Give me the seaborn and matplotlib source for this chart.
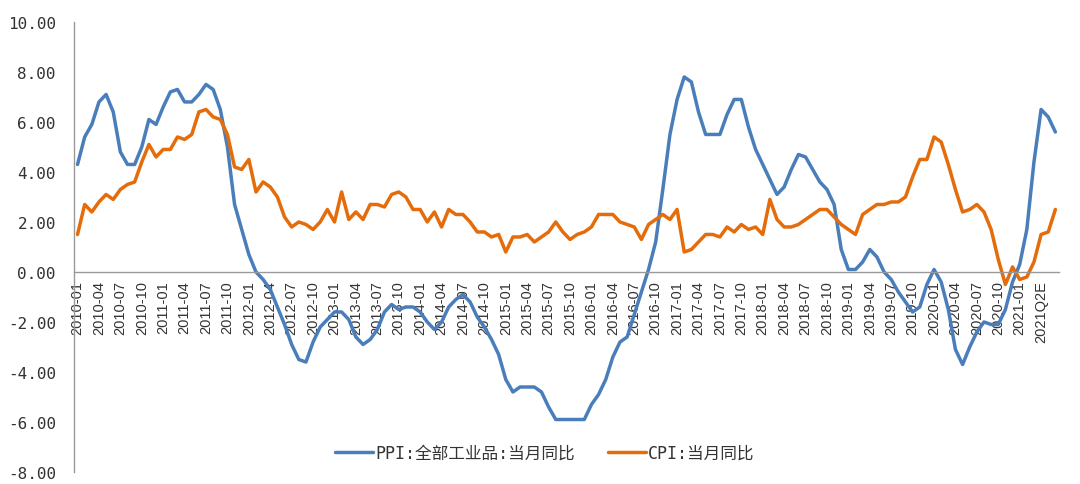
import numpy as np
import pandas as pd
import matplotlib
matplotlib.use("Agg")
import matplotlib.pyplot as plt
import seaborn as sns

months = [f"{y}-{m:02d}" for y in range(2010, 2022) for m in range(1, 13)][:138]

ppi = [4.3, 5.4, 5.9, 6.8, 7.1, 6.4, 4.8, 4.3, 4.3, 5.0, 6.1, 5.9,
       6.6, 7.2, 7.3, 6.8, 6.8, 7.1, 7.5, 7.3, 6.5, 5.0, 2.7, 1.7,
       0.7, 0.0, -0.3, -0.7, -1.4, -2.1, -2.9, -3.5, -3.6, -2.8, -2.2, -1.9,
       -1.6, -1.6, -1.9, -2.6, -2.9, -2.7, -2.3, -1.6, -1.3, -1.5, -1.4, -1.4,
       -1.6, -2.0, -2.3, -2.0, -1.4, -1.1, -0.9, -1.2, -1.8, -2.2, -2.7, -3.3,
       -4.3, -4.8, -4.6, -4.6, -4.6, -4.8, -5.4, -5.9, -5.9, -5.9, -5.9, -5.9,
       -5.3, -4.9, -4.3, -3.4, -2.8, -2.6, -1.7, -0.8, 0.1, 1.2, 3.3, 5.5,
       6.9, 7.8, 7.6, 6.4, 5.5, 5.5, 5.5, 6.3, 6.9, 6.9, 5.8, 4.9,
       4.3, 3.7, 3.1, 3.4, 4.1, 4.7, 4.6, 4.1, 3.6, 3.3, 2.7, 0.9,
       0.1, 0.1, 0.4, 0.9, 0.6, 0.0, -0.3, -0.8, -1.2, -1.6, -1.4, -0.5,
       0.1, -0.4, -1.5, -3.1, -3.7, -3.0, -2.4, -2.0, -2.1, -2.1, -1.5, -0.4,
       0.3, 1.7, 4.4, 6.5, 6.2, 5.6]

cpi = [1.5, 2.7, 2.4, 2.8, 3.1, 2.9, 3.3, 3.5, 3.6, 4.4, 5.1, 4.6,
       4.9, 4.9, 5.4, 5.3, 5.5, 6.4, 6.5, 6.2, 6.1, 5.5, 4.2, 4.1,
       4.5, 3.2, 3.6, 3.4, 3.0, 2.2, 1.8, 2.0, 1.9, 1.7, 2.0, 2.5,
       2.0, 3.2, 2.1, 2.4, 2.1, 2.7, 2.7, 2.6, 3.1, 3.2, 3.0, 2.5,
       2.5, 2.0, 2.4, 1.8, 2.5, 2.3, 2.3, 2.0, 1.6, 1.6, 1.4, 1.5,
       0.8, 1.4, 1.4, 1.5, 1.2, 1.4, 1.6, 2.0, 1.6, 1.3, 1.5, 1.6,
       1.8, 2.3, 2.3, 2.3, 2.0, 1.9, 1.8, 1.3, 1.9, 2.1, 2.3, 2.1,
       2.5, 0.8, 0.9, 1.2, 1.5, 1.5, 1.4, 1.8, 1.6, 1.9, 1.7, 1.8,
       1.5, 2.9, 2.1, 1.8, 1.8, 1.9, 2.1, 2.3, 2.5, 2.5, 2.2, 1.9,
       1.7, 1.5, 2.3, 2.5, 2.7, 2.7, 2.8, 2.8, 3.0, 3.8, 4.5, 4.5,
       5.4, 5.2, 4.3, 3.3, 2.4, 2.5, 2.7, 2.4, 1.7, 0.5, -0.5, 0.2,
       -0.3, -0.2, 0.4, 1.5, 1.6, 2.5]

tick_labels = [m if i % 3 == 0 else "" for i, m in enumerate(months)]
tick_labels[135] = "2021Q2E"

series_names = ["PPI:全部工业品:当月同比", "CPI:当月同比"]
colors = ["#4A7EBB", "#E46C0A"]

df = pd.DataFrame({
    "idx": list(range(len(months))) * 2,
    "value": ppi + cpi,
    "series": [series_names[0]] * len(ppi) + [series_names[1]] * len(cpi),
})

sns.set_style("white")
plt.rcParams["font.family"] = ["DejaVu Sans Mono", "Noto Sans CJK SC"]
plt.rcParams["axes.unicode_minus"] = False

fig = plt.figure(figsize=(10.8, 4.85), dpi=100)
ax = fig.add_axes([0.0685, 0.0247, 0.912, 0.928])

sns.lineplot(data=df, x="idx", y="value", hue="series", palette=colors,
             hue_order=series_names, linewidth=2.5, ax=ax, legend=True)

ax.set_xlim(-0.5, len(months) - 0.5)
ax.set_ylim(-8, 10)
yt = np.arange(-8, 10.1, 2)
ax.set_yticks(yt)
ax.set_yticklabels([f"{v:.2f}" for v in yt], fontsize=11.5,
                   family=["DejaVu Sans Mono"], color="#333333")

ax.spines["top"].set_visible(False)
ax.spines["right"].set_visible(False)
ax.spines["bottom"].set_position(("data", 0))
for s in ("left", "bottom"):
    ax.spines[s].set_color("#999999")
    ax.spines[s].set_linewidth(1.0)

ax.set_xticks(range(len(months)))
ax.set_xticklabels(tick_labels, rotation=90, fontsize=10.5,
                   family=["Liberation Sans"], color="#333333")
ax.set_xticks(np.arange(-0.5, len(months), 1), minor=True)
ax.tick_params(axis="x", which="major", length=0, pad=6)
ax.tick_params(axis="x", which="minor", length=4, color="#999999", width=0.8)
ax.tick_params(axis="y", length=5, color="#999999", width=0.8, pad=8)
ax.set_xlabel("")
ax.set_ylabel("")
ax.grid(False)

leg = ax.legend(loc="center", bbox_to_anchor=(0.478, 0.042), ncol=2, frameon=False,
                fontsize=12, handlelength=2.3, columnspacing=2.0, handletextpad=0.1,
                labelcolor="#333333")
for line in leg.get_lines():
    line.set_linewidth(2.5)

fig.savefig("out.png", dpi=100)
